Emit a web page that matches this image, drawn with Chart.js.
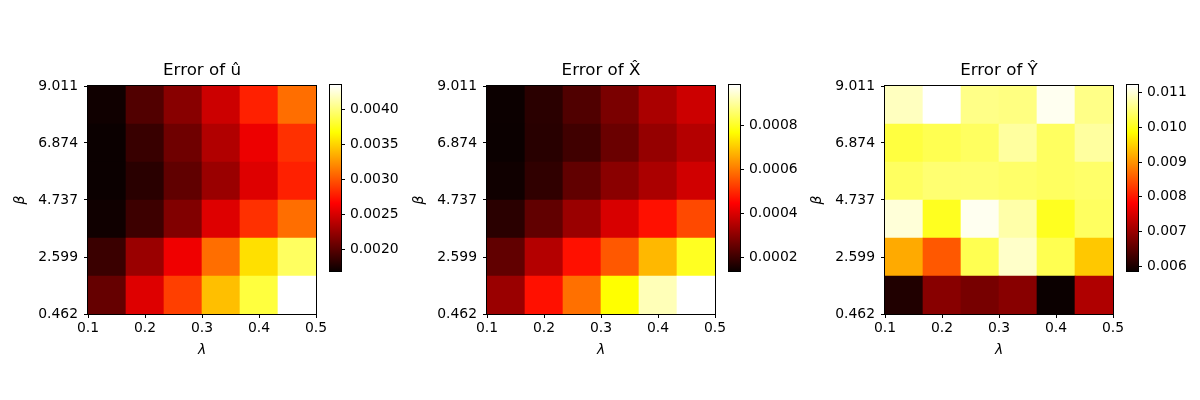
<!DOCTYPE html>
<html>
<head>
<meta charset="utf-8">
<script src="https://cdn.jsdelivr.net/npm/chart.js@4.4.0/dist/chart.umd.min.js"></script>
<style>
  body { margin: 0; background: #fff; }
  #fig { position: relative; width: 1200px; height: 400px; }
  #fig canvas { position: absolute; }
</style>
</head>
<body>
<div id="fig"></div>
<script>
// grid extent and tick labels
var lambdaRange = [0.1, 0.5];
var betaRange = [0.462, 9.011];
var lambdaTicks = ['0.1', '0.2', '0.3', '0.4', '0.5'];
var betaTicks = ['0.462', '2.599', '4.737', '6.874', '9.011'];

// errors, rows from top (largest beta) to bottom, columns lambda low -> high
var errU = [
    [0.00171, 0.00197, 0.00219, 0.00246, 0.00279, 0.00310],
    [0.00169, 0.00187, 0.00209, 0.00235, 0.00259, 0.00285],
    [0.00169, 0.00181, 0.00203, 0.00226, 0.00253, 0.00279],
    [0.00171, 0.00189, 0.00216, 0.00253, 0.00285, 0.00310],
    [0.00188, 0.00226, 0.00260, 0.00310, 0.00355, 0.00393],
    [0.00205, 0.00253, 0.00291, 0.00342, 0.00384, 0.00435]
];
var errX = [
    [0.000139, 0.000177, 0.000225, 0.000278, 0.000339, 0.000382],
    [0.000137, 0.000174, 0.000205, 0.000258, 0.000313, 0.000352],
    [0.000144, 0.000185, 0.000246, 0.000298, 0.000340, 0.000387],
    [0.000177, 0.000246, 0.000319, 0.000398, 0.000467, 0.000539],
    [0.000246, 0.000352, 0.000467, 0.000558, 0.000680, 0.000798],
    [0.000319, 0.000467, 0.000589, 0.000770, 0.000926, 0.000986]
];
var errY = [
    [0.01088, 0.01122, 0.01058, 0.01055, 0.01114, 0.01058],
    [0.01020, 0.01029, 0.01037, 0.01071, 0.01037, 0.01071],
    [0.01037, 0.01046, 0.01046, 0.01042, 0.01037, 0.01042],
    [0.01101, 0.01003, 0.01114, 0.01076, 0.01003, 0.01037],
    [0.00918, 0.00852, 0.01029, 0.01093, 0.01029, 0.00942],
    [0.00603, 0.00686, 0.00673, 0.00686, 0.00586, 0.00718]
];

var cbTicksU = ['0.0020', '0.0025', '0.0030', '0.0035', '0.0040'];
var cbTicksX = ['0.0002', '0.0004', '0.0006', '0.0008'];
var cbTicksY = ['0.006', '0.007', '0.008', '0.009', '0.010', '0.011'];

var titles = ['Error of û', 'Error of X̂', 'Error of Ŷ'];

var FONT = 'DejaVu Sans';
Chart.defaults.font.family = FONT;
Chart.defaults.color = '#000';

// matplotlib 'hot' colormap
function hot(t) {
    t = Math.max(0, Math.min(1, t));
    var r = t < 0.365079 ? 0.0416 + t / 0.365079 * (1 - 0.0416) : 1;
    var g = t < 0.365079 ? 0 : (t < 0.746032 ? (t - 0.365079) / (0.746032 - 0.365079) : 1);
    var b = t < 0.746032 ? 0 : (t - 0.746032) / (1 - 0.746032);
    return 'rgb(' + Math.round(r * 255) + ',' + Math.round(g * 255) + ',' + Math.round(b * 255) + ')';
}

// black box around the plot area
var frame = {
    id: 'frame',
    afterDatasetsDraw: function (chart) {
        var a = chart.chartArea, c = chart.ctx;
        c.save();
        c.strokeStyle = '#000';
        c.lineWidth = 1;
        c.strokeRect(a.left - 0.5, a.top - 0.5, a.right - a.left + 1, a.bottom - a.top + 1);
        c.restore();
    }
};

function addCanvas(left, top, w, h) {
    var cv = document.createElement('canvas');
    cv.width = w; cv.height = h;
    cv.style.left = left + 'px';
    cv.style.top = top + 'px';
    document.getElementById('fig').appendChild(cv);
    return cv;
}

var tickFont = { family: FONT, size: 13.9 };
var axLefts = [88, 487, 885];

function makePanel(grid, title, cbTicks, axLeft) {
    var nRows = grid.length, nCols = grid[0].length;
    var dx = (lambdaRange[1] - lambdaRange[0]) / nCols;
    var dy = (betaRange[1] - betaRange[0]) / nRows;
    var all = [].concat.apply([], grid);
    var vmin = Math.min.apply(null, all), vmax = Math.max.apply(null, all);

    var cells = [], colors = [];
    grid.forEach(function (row, r) {
        row.forEach(function (v, c) {
            var top = betaRange[1] - r * dy;
            cells.push({ x: lambdaRange[0] + (c + 0.5) * dx, y: [top - dy, top] });
            colors.push(hot((v - vmin) / (vmax - vmin)));
        });
    });

    var heat = addCanvas(axLeft - 88, 40, 88 + 228 + 24, 330);
    new Chart(heat, {
        type: 'bar',
        data: {
            datasets: [{
                data: cells,
                backgroundColor: colors,
                borderWidth: 0,
                barPercentage: 1,
                categoryPercentage: 1
            }]
        },
        options: {
            responsive: false,
            animation: false,
            layout: { padding: { right: 24 } },
            plugins: {
                legend: { display: false },
                tooltip: { enabled: false },
                title: {
                    display: true,
                    fullSize: false,
                    text: title,
                    color: '#000',
                    font: { family: FONT, size: 16.7, weight: 'normal', lineHeight: '20px' },
                    padding: { top: 21, bottom: 5 }
                }
            },
            scales: {
                x: {
                    type: 'linear',
                    min: lambdaRange[0],
                    max: lambdaRange[1],
                    offset: false,
                    afterBuildTicks: function (s) { s.ticks = lambdaTicks.map(function (t) { return { value: Number(t) }; }); },
                    afterFit: function (s) { s.height = 56; },
                    grid: { drawOnChartArea: false, tickLength: 4, color: '#000', offset: false },
                    border: { display: false },
                    ticks: {
                        color: '#000', font: tickFont, padding: 2, maxRotation: 0, autoSkip: false,
                        callback: function (v) { return v.toFixed(1); }
                    },
                    title: {
                        display: true, text: 'λ', color: '#000',
                        font: { family: FONT, size: 13.9, style: 'italic' },
                        padding: { top: 0, bottom: 11 }
                    }
                },
                y: {
                    type: 'linear',
                    min: betaRange[0],
                    max: betaRange[1],
                    afterBuildTicks: function (s) { s.ticks = betaTicks.map(function (t) { return { value: Number(t) }; }); },
                    afterFit: function (s) { s.width = 88; },
                    grid: { drawOnChartArea: false, tickLength: 4, color: '#000' },
                    border: { display: false },
                    ticks: {
                        color: '#000', font: tickFont, padding: 6, autoSkip: false,
                        callback: function (v) { return v.toFixed(3); }
                    },
                    title: {
                        display: true, text: 'β', color: '#000',
                        font: { family: FONT, size: 13.9, style: 'italic' },
                        padding: { top: 12, bottom: 0 }
                    }
                }
            }
        },
        plugins: [frame]
    });

    // colorbar: one floating bar from vmin to vmax filled with the colormap
    var cbLeft = axLeft + 228 + 14;
    var cb = addCanvas(cbLeft - 2, 85 - 16, 2 + 11 + 60, 186 + 32);
    new Chart(cb, {
        type: 'bar',
        data: {
            labels: [''],
            datasets: [{
                data: [[vmin, vmax]],
                borderWidth: 0,
                barPercentage: 1,
                categoryPercentage: 1,
                backgroundColor: function (ctx) {
                    var ch = ctx.chart;
                    if (!ch.chartArea) return '#000';
                    var ys = ch.scales.y;
                    var g = ch.ctx.createLinearGradient(0, ys.getPixelForValue(vmin), 0, ys.getPixelForValue(vmax));
                    [0, 0.365079, 0.746032, 1].forEach(function (s) { g.addColorStop(s, hot(s)); });
                    return g;
                }
            }]
        },
        options: {
            responsive: false,
            animation: false,
            layout: { padding: { left: 2, top: 16, bottom: 16 } },
            plugins: { legend: { display: false }, tooltip: { enabled: false } },
            scales: {
                x: { display: false },
                y: {
                    position: 'right',
                    min: vmin,
                    max: vmax,
                    afterBuildTicks: function (s) { s.ticks = cbTicks.map(function (t) { return { value: Number(t) }; }); },
                    afterFit: function (s) { s.width = 60; },
                    grid: { drawOnChartArea: false, tickLength: 4, color: '#000' },
                    border: { display: false },
                    ticks: {
                        color: '#000', font: tickFont, padding: 5, autoSkip: false,
                        callback: function (v, i) { return cbTicks[i]; }
                    }
                }
            }
        },
        plugins: [frame]
    });
}

makePanel(errU, titles[0], cbTicksU, axLefts[0]);
makePanel(errX, titles[1], cbTicksX, axLefts[1]);
makePanel(errY, titles[2], cbTicksY, axLefts[2]);
</script>
</body>
</html>
